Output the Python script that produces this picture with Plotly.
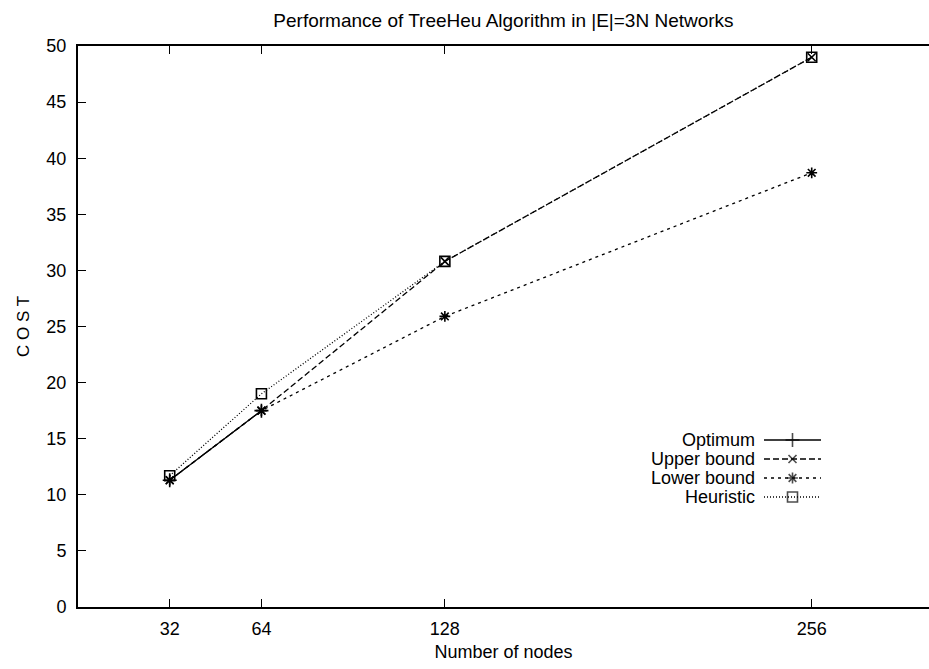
import plotly.graph_objects as go

# Network sizes (number of nodes)
nodes = [32, 64, 128, 256]

# Cost per algorithm / bound
optimum_nodes = [32, 64]
optimum = [11.3, 17.5]
upper_bound = [11.3, 17.5, 30.8, 49.0]
lower_bound = [11.3, 17.5, 25.9, 38.7]
heuristic = [11.7, 19.0, 30.8, 49.0]

x_ticks = [32, 64, 128, 256]
y_ticks = [0, 5, 10, 15, 20, 25, 30, 35, 40, 45, 50]

W, H = 929, 669
ML, MR, MT, MB = 78, 0, 46, 62
FONT = "Liberation Sans, Arial, Helvetica, sans-serif"

fig = go.Figure()

styles = [
    ("Optimum", optimum_nodes, optimum, "solid", "cross-thin", 10),
    ("Upper bound", nodes, upper_bound, "6px,3px", "x-thin", 8),
    ("Lower bound", nodes, lower_bound, "3px,4px", "asterisk", 9),
    ("Heuristic", nodes, heuristic, "1px,2px", "square-open", 10),
]

for name, xs, ys, dash, sym, ms in styles:
    fig.add_trace(go.Scatter(
        x=xs, y=ys, mode="lines+markers", name=name,
        line=dict(color="black", width=1.3, dash=dash),
        marker=dict(symbol=sym, size=ms, color="black",
                    line=dict(color="black", width=1.6)),
        showlegend=False,
    ))

# Key: right-aligned labels with line samples to their right
plot_w = W - ML - MR
plot_h = H - MT - MB
key_rows_px = [440, 459, 478, 497]
text_right_px = 757
line_x0_px, line_x1_px = 764, 821

def px_to_paper_x(px):
    return (px - ML) / plot_w

def px_to_paper_y(py):
    return (H - MB - py) / plot_h

for (name, xs, ys, dash, sym, ms), py in zip(styles, key_rows_px):
    yp = px_to_paper_y(py)
    fig.add_annotation(
        x=px_to_paper_x(text_right_px), y=yp, xref="paper", yref="paper",
        text=name, showarrow=False, xanchor="right", yanchor="middle",
        font=dict(family=FONT, size=18, color="black"),
    )
    x0, x1 = px_to_paper_x(line_x0_px), px_to_paper_x(line_x1_px)
    fig.add_trace(go.Scatter(
        x=[x0, (x0 + x1) / 2, x1], y=[yp, yp, yp],
        xaxis="x2", yaxis="y2", mode="lines+markers",
        line=dict(color="black", width=1.3, dash=dash),
        marker=dict(symbol=sym, size=[0, ms, 0], color="black",
                    line=dict(color="black", width=1.6)),
        showlegend=False, hoverinfo="skip",
    ))

x_max = plot_w / ((812 - 170) / (256 - 32))

fig.update_layout(
    width=W, height=H,
    margin=dict(l=ML, r=MR, t=MT, b=MB),
    paper_bgcolor="white", plot_bgcolor="white",
    font=dict(family=FONT, size=18, color="black"),
    title=dict(
        text="Performance of TreeHeu Algorithm in |E|=3N Networks",
        x=0.5, xref="paper", xanchor="center",
        y=1 - 20 / H, yref="container", yanchor="middle",
        font=dict(family=FONT, size=19, color="black"),
    ),
    xaxis=dict(
        range=[0, x_max], tickvals=x_ticks, ticktext=[str(v) for v in x_ticks],
        ticks="inside", ticklen=8, tickwidth=1.2, tickcolor="black",
        showline=True, linecolor="black", linewidth=2, mirror="ticks",
        showgrid=False, zeroline=False,
        ticklabelstandoff=4,
        tickfont=dict(family=FONT, size=18),
        title=dict(text="Number of nodes", standoff=8,
                   font=dict(family=FONT, size=18)),
    ),
    yaxis=dict(
        range=[0, 50], tickvals=y_ticks,
        ticks="inside", ticklen=8, tickwidth=1.2, tickcolor="black",
        showline=True, linecolor="black", linewidth=2, mirror=False,
        showgrid=False, zeroline=False,
        ticklabelstandoff=6,
        tickfont=dict(family=FONT, size=18),
        title=dict(text="C O S T", standoff=12,
                   font=dict(family=FONT, size=17)),
    ),
    xaxis2=dict(range=[0, 1], overlaying="x", visible=False, fixedrange=True),
    yaxis2=dict(range=[0, 1], overlaying="y", visible=False, fixedrange=True),
)

fig.write_html("out.html")
